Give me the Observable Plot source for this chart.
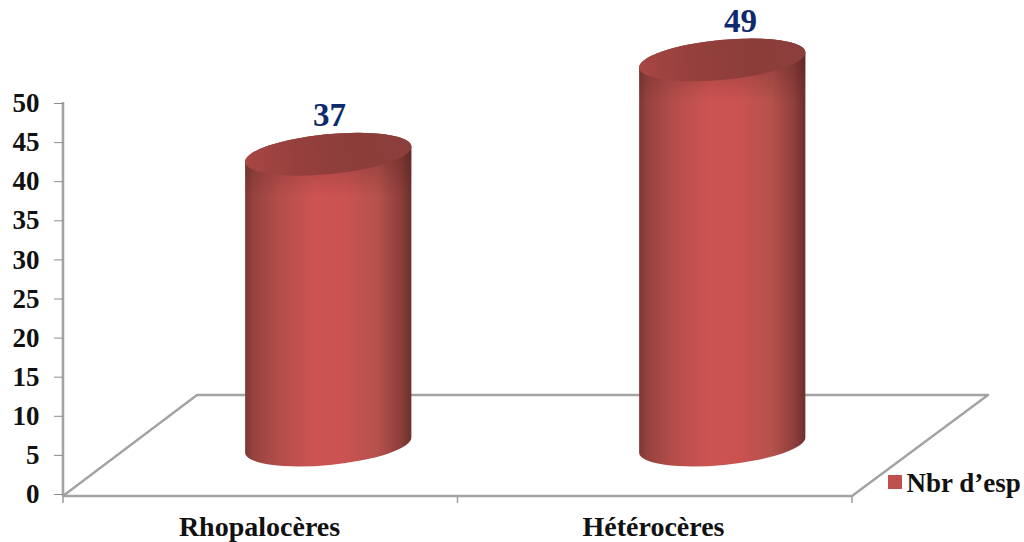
<!DOCTYPE html>
<html lang="fr">
<head>
<meta charset="utf-8">
<title>Nbr d'esp</title>
<script src="https://cdn.jsdelivr.net/npm/d3@7"></script>
<script src="https://cdn.jsdelivr.net/npm/@observablehq/plot@0.6"></script>
<style>
  html, body { margin: 0; padding: 0; background: #fff; overflow: hidden; }
  svg { display: block; }
</style>
</head>
<body>
<div id="chart"></div>
<script>
// Species counts per group of Lepidoptera
const groups = ["Rhopalocères", "Hétérocères"];
const counts = [37, 49];
const yTicks = [0, 5, 10, 15, 20, 25, 30, 35, 40, 45, 50];
const seriesName = "Nbr d’esp";
const rows = groups.map((group, i) => ({group, count: counts[i]}));

const serif = "'Liberation Serif', 'Times New Roman', serif";
const axisGrey = "#a3a3a3";

// Pseudo-3D floor: how far the back edge sits from the front edge
const floorDepthX = 134;
const floorDepthY = 101;

// Cylinders stand halfway back on the floor
const standDx = 67;
const standDy = -49;
const heightScale = 1.005;
const radiusX = 83.5;
const radiusY = 20;
const tilt = -5.5;

const svgNode = (name) => document.createElementNS("http://www.w3.org/2000/svg", name);

function gradient(id, attrs, stops) {
  const g = d3.select(svgNode("linearGradient")).attr("id", id);
  for (const [k, v] of Object.entries(attrs)) g.attr(k, v);
  for (const [offset, color, opacity = 1] of stops) {
    g.append("stop").attr("offset", offset).attr("stop-color", color).attr("stop-opacity", opacity);
  }
  return g.node();
}

// Value axis line, floor outline and category-boundary ticks, placed from the scales
function drawFloor(index, {x, y}, values, dims) {
  const g = d3.select(svgNode("g")).attr("fill", "none").attr("stroke", axisGrey);
  const left = dims.marginLeft;
  const right = dims.width - dims.marginRight;
  const base = y(0) + 2;
  g.append("line")
    .attr("x1", left).attr("x2", left)
    .attr("y1", y(50) - 1).attr("y2", base)
    .attr("stroke-width", 2.6);
  g.append("path")
    .attr("stroke-width", 2.4)
    .attr("stroke-linejoin", "round")
    .attr("d", `M${left},${base}L${left + floorDepthX},${base - floorDepthY}L${right + floorDepthX + 2},${base - floorDepthY}L${right},${base}Z`);
  const step = (right - left) / groups.length;
  for (let i = 0; i <= groups.length; ++i) {
    const tx = left + i * step;
    g.append("line").attr("x1", tx).attr("x2", tx).attr("y1", base).attr("y2", base + 7).attr("stroke-width", 1.6);
  }
  return g.node();
}

// Tilted cylinders built on the bar channels
function drawCylinders(index, {y}, values, dims) {
  const g = d3.select(svgNode("g"));
  const defs = g.append("defs");
  defs.node().append(
    gradient("cylBody", {x1: 0, x2: 1, y1: 0, y2: 0}, [
      [0, "#7d3735"], [0.05, "#96433f"], [0.2, "#b34d4a"], [0.42, "#cd5452"],
      [0.6, "#ca5351"], [0.8, "#b5514c"], [0.93, "#8f3f3c"], [1, "#6d2f2d"]
    ]),
    gradient("cylTop", {x1: 0, x2: 1, y1: 0, y2: 0}, [
      [0, "#a84643"], [0.3, "#96403d"], [0.65, "#8c3d3a"], [1, "#8b3f3c"]
    ])
  );
  const band = (dims.width - dims.marginLeft - dims.marginRight) / groups.length;
  const rad = (tilt * Math.PI) / 180;
  const ex = radiusX * Math.cos(rad);
  const ey = radiusX * Math.sin(rad);
  for (const i of index) {
    const px = values.x[i] + band / 2 + standDx;
    const bottom = y(0) + standDy;
    const top = bottom - (y(0) - y(counts[i])) * heightScale;
    const arc = (sweep, x1, y1) => `A${radiusX},${radiusY} ${tilt} 0 ${sweep} ${x1},${y1}`;
    const body = `M${px - ex},${top - ey}L${px - ex},${bottom - ey}${arc(0, px + ex, bottom + ey)}L${px + ex},${top + ey}${arc(0, px - ex, top - ey)}Z`;
    g.append("path").attr("d", body).attr("fill", "url(#cylBody)");
    // Shadow falling from the rim onto the upper part of the wall
    defs.node().append(
      gradient(`cylShade${i}`, {gradientUnits: "userSpaceOnUse", x1: 0, x2: 0, y1: top, y2: top + 42}, [
        [0, "#4a1c1b", 0.3], [1, "#4a1c1b", 0]
      ])
    );
    g.append("path").attr("d", body).attr("fill", `url(#cylShade${i})`);
    g.append("ellipse")
      .attr("cx", px).attr("cy", top)
      .attr("rx", radiusX).attr("ry", radiusY)
      .attr("transform", `rotate(${tilt} ${px} ${top})`)
      .attr("fill", "url(#cylTop)");
  }
  return g.node();
}

function drawLegendSwatch() {
  return d3.select(svgNode("rect"))
    .attr("x", 888).attr("y", 475).attr("width", 14).attr("height", 14)
    .attr("fill", "#c0504d").node();
}

const valueLabel = (group, dx, dy) => Plot.text(rows.filter((d) => d.group === group), {
  x: "group", y: "count", text: (d) => String(d.count),
  dx, dy,
  fontFamily: serif, fontWeight: "bold", fontSize: 33, fill: "#0c2a6d"
});

const chart = Plot.plot({
  width: 1024,
  height: 542,
  marginLeft: 63,
  marginRight: 172,
  marginTop: 103,
  marginBottom: 48,
  x: {domain: groups, padding: 0, label: null},
  y: {domain: [0, 50], label: null},
  style: {background: "#fff", overflow: "visible"},
  marks: [
    drawFloor,
    Plot.axisY({
      ticks: yTicks, tickSize: 9, tickPadding: 15, stroke: "#8c8c8c",
      fontFamily: serif, fontWeight: "bold", fontSize: 27, fill: "#111", label: null
    }),
    Plot.axisX({
      tickSize: 0, tickPadding: 22, dx: -2, fontFamily: serif, fontWeight: "bold", fontSize: 28, fill: "#111", label: null
    }),
    Plot.barY(rows, {x: "group", y: "count", render: drawCylinders}),
    valueLabel("Rhopalocères", 68, -90),
    valueLabel("Hétérocères", 85, -90),
    drawLegendSwatch,
    Plot.text([seriesName], {
      frameAnchor: "bottom-left", text: (d) => d, dx: 843, dy: -3,
      textAnchor: "start", lineAnchor: "bottom",
      fontFamily: serif, fontWeight: "bold", fontSize: 27, fill: "#111"
    })
  ]
});
document.getElementById("chart").append(chart);
</script>
</body>
</html>
